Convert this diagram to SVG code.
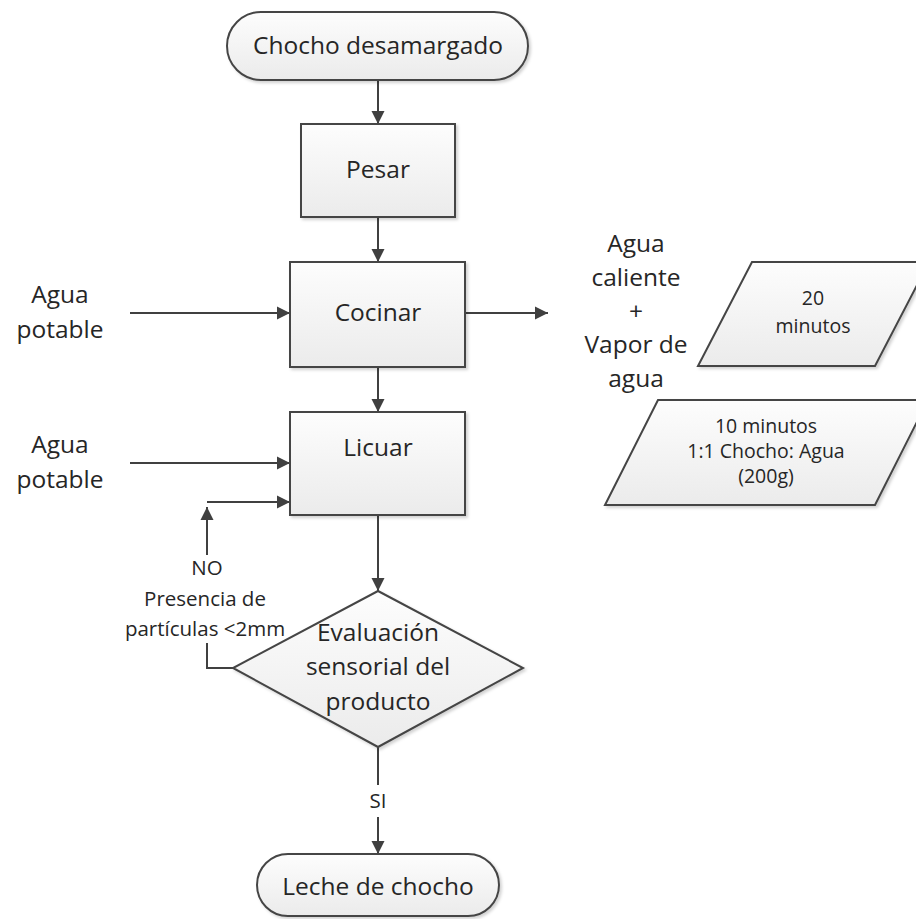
<svg xmlns="http://www.w3.org/2000/svg" width="916" height="919" viewBox="0 0 916 919">
  <defs>
    <linearGradient id="shapeFill" x1="0" y1="0" x2="0" y2="1">
      <stop offset="0" stop-color="#fdfdfd"/>
      <stop offset="1" stop-color="#ebebeb"/>
    </linearGradient>
    <filter id="softShadow" x="-10%" y="-10%" width="125%" height="130%">
      <feDropShadow dx="2" dy="2" stdDeviation="1.5" flood-color="#000" flood-opacity="0.18"/>
    </filter>
    <marker id="arrow" markerUnits="userSpaceOnUse" markerWidth="14" markerHeight="14" refX="13" refY="7" orient="auto">
      <path d="M0,0.5 L13,7 L0,13.5 Z" fill="#404040"/>
    </marker>
  </defs>
  <style>
    .shape { fill: url(#shapeFill); stroke: #454545; stroke-width: 2; filter: url(#softShadow); }
    .label { font-family: "Open Sans", "DejaVu Sans", sans-serif; font-size: 24.5px; fill: #262626; text-anchor: middle; }
    .small { font-size: 20.5px; }
    .note { font-size: 19.5px; }
    .conn { fill: none; stroke: #404040; stroke-width: 2; }
    .conn .arr { marker-end: url(#arrow); }
  </style>
  <rect width="916" height="919" fill="#ffffff"/>

  <!-- connectors -->
  <g id="connectors" class="conn">
    <line class="arr" x1="378" y1="80" x2="378" y2="124"/>
    <line class="arr" x1="378" y1="217" x2="378" y2="262"/>
    <line class="arr" x1="130" y1="313" x2="290" y2="313"/>
    <line class="arr" x1="465" y1="313" x2="548" y2="313"/>
    <line class="arr" x1="378" y1="367" x2="378" y2="412"/>
    <line class="arr" x1="130" y1="463" x2="290" y2="463"/>
    <line class="arr" x1="207" y1="502" x2="290" y2="502"/>
    <line class="arr" x1="378" y1="515" x2="378" y2="591"/>
    <polyline points="233,668 207,668 207,643"/>
    <line class="arr" x1="207" y1="555" x2="207" y2="507"/>
    <line x1="378" y1="747" x2="378" y2="785"/>
    <line class="arr" x1="378" y1="817" x2="378" y2="854"/>
  </g>

  <!-- connector labels -->
  <g id="loop-label" class="label small">
    <text x="207" y="575">NO</text>
    <text x="205" y="606">Presencia de</text>
    <text x="205" y="636">partículas &lt;2mm</text>
  </g>
  <g id="yes-label" class="label small">
    <text x="378" y="808">SI</text>
  </g>

  <!-- nodes -->
  <g id="start">
    <rect class="shape" x="227" y="12" width="301" height="68" rx="34"/>
    <text class="label" x="378" y="54">Chocho desamargado</text>
  </g>

  <g id="pesar">
    <rect class="shape" x="301" y="124" width="154" height="93"/>
    <text class="label" x="378" y="178">Pesar</text>
  </g>

  <g id="cocinar">
    <rect class="shape" x="290" y="262" width="175" height="105"/>
    <text class="label" x="378" y="321">Cocinar</text>
  </g>

  <g id="licuar">
    <rect class="shape" x="290" y="412" width="175" height="103"/>
    <text class="label" x="378" y="456">Licuar</text>
  </g>

  <g id="evaluacion">
    <polygon class="shape" points="378,591 523,668 378,747 233,668"/>
    <text class="label" x="378" y="641">Evaluación</text>
    <text class="label" x="378" y="675">sensorial del</text>
    <text class="label" x="378" y="710">producto</text>
  </g>

  <g id="end">
    <rect class="shape" x="257" y="854" width="242" height="62" rx="31"/>
    <text class="label" x="378" y="895">Leche de chocho</text>
  </g>

  <g id="input-cocinar">
    <text class="label" x="60" y="303">Agua</text>
    <text class="label" x="60" y="338">potable</text>
  </g>

  <g id="input-licuar">
    <text class="label" x="60" y="453">Agua</text>
    <text class="label" x="60" y="488">potable</text>
  </g>

  <g id="output-cocinar">
    <text class="label" x="636" y="252">Agua</text>
    <text class="label" x="636" y="286">caliente</text>
    <text class="label" x="636" y="320">+</text>
    <text class="label" x="636" y="353">Vapor de</text>
    <text class="label" x="636" y="387">agua</text>
  </g>

  <g id="tiempo-coccion">
    <polygon class="shape" points="752,262 929,262 875,366 698,366"/>
    <text class="label note" x="813" y="305">20</text>
    <text class="label note" x="813" y="333">minutos</text>
  </g>

  <g id="tiempo-licuado">
    <polygon class="shape" points="658,400 928,400 875,505 605,505"/>
    <text class="label note" x="766" y="433">10 minutos</text>
    <text class="label note" x="766" y="458">1:1 Chocho: Agua</text>
    <text class="label note" x="766" y="483">(200g)</text>
  </g>
</svg>
